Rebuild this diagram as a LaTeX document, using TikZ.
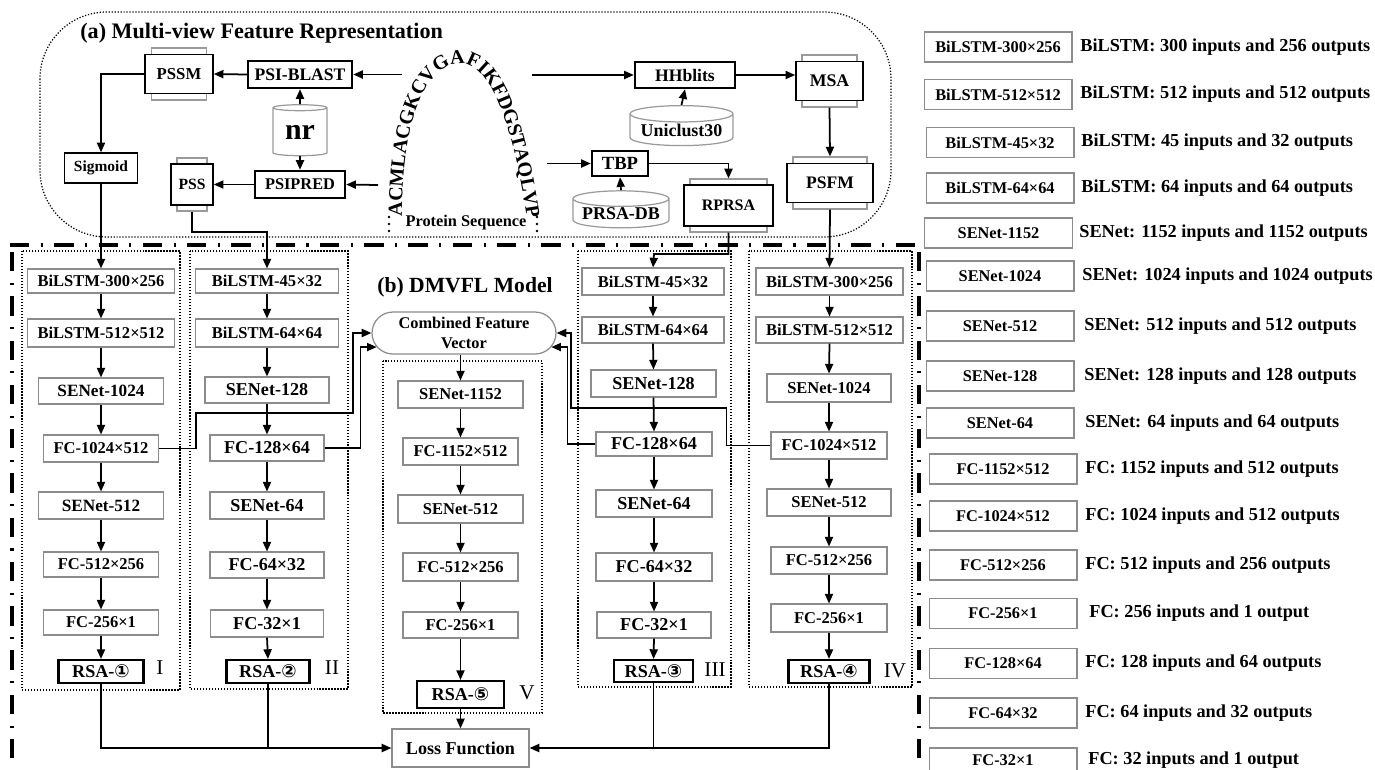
\documentclass[tikz,border=0pt]{standalone}
\usepackage{fontspec}
\setmainfont{Liberation Serif}
\newfontfamily\circfont{DejaVu Sans}
\usepackage{tikz}
\usetikzlibrary{arrows.meta,positioning,calc,shapes.geometric,shapes.misc,decorations.text}
\definecolor{boxgris}{HTML}{8C8C8C}
\definecolor{cylgris}{HTML}{9A9A9A}

\tikzset{
  lyr/.style={draw=boxgris,line width=0.6pt,fill=white,inner sep=0pt,minimum height=0.52cm,
              font=\fontsize{9.4}{11}\selectfont\bfseries},
  lyrbig/.style={lyr,font=\fontsize{10.3}{12}\selectfont\bfseries},
  rsa/.style={draw,line width=1.2pt,fill=white,inner sep=0pt,minimum height=0.46cm,
              font=\fontsize{10.3}{12}\selectfont\bfseries},
  tool/.style={draw,line width=1.4pt,fill=white,inner sep=0pt,minimum height=0.52cm,
               font=\fontsize{10}{12}\selectfont\bfseries},
  mat/.style={draw,line width=0.9pt,fill=white,inner sep=0pt,font=\fontsize{9.5}{11}\selectfont\bfseries},
  matbk/.style={draw=cylgris,line width=0.7pt,fill=white,inner sep=0pt},
  db/.style={cylinder,shape border rotate=90,aspect=0.2,draw=cylgris,line width=0.7pt,fill=white,
             inner sep=0pt,font=\fontsize{10.2}{12}\selectfont\bfseries},
  frm/.style={densely dotted,line width=0.7pt},
  arr/.style={-{Triangle[length=5.5pt,width=4.6pt]},line width=1pt},
  ln/.style={line width=1pt},
  num/.style={font=\fontsize{12}{14}\selectfont},
  dashdot/.style={line width=1.8pt,dash pattern=on 11pt off 6.5pt on 1.2pt off 6.5pt},
  leg/.style={draw=boxgris,line width=0.6pt,inner sep=0pt,minimum width=2.96cm,minimum height=0.6cm,
              font=\fontsize{9.3}{11}\selectfont\bfseries},
  legtxt/.style={anchor=west,inner sep=0pt,font=\fontsize{10.4}{12}\selectfont\bfseries},
}

\begin{document}
\begin{tikzpicture}[x=0.02cm,y=-0.02cm,line cap=butt]
  \useasboundingbox (0,0) rectangle (1375,769);

  % (a) multi-view features
  \draw[frm,rounded corners=38pt] (40,12) rectangle (891,237);
  \node[anchor=west,inner sep=0pt,font=\fontsize{12.6}{14}\selectfont\bfseries] (ttla) at (80,33)
       {(a) Multi-view Feature Representation};

  \path[decorate,decoration={text along path,text align={fit to path},
        text={|\fontsize{11.4}{13}\selectfont\bfseries|ACMLACGKCVGAFIKFDGSTAQLVP}}]
        (402,216) .. controls (402,120) and (425,64) .. (461,64)
                  .. controls (495,64) and (515,140) .. (527,218);
  \foreach \xx in {389,537}{
    \foreach \yy in {217,224,231} \fill (\xx,\yy) circle (0.8pt);
  }
  \node[inner sep=0pt,font=\fontsize{9.3}{11}\selectfont\bfseries] (seq) at (466,223) {Protein Sequence};
  \coordinate (s1) at (402,74.5);
  \coordinate (s2) at (378,185);
  \coordinate (s3) at (532,75);
  \coordinate (s4) at (547,163.5);

  \node[matbk,minimum width=1.1cm,minimum height=1.04cm] (pssm0) at (179,74) {};
  \node[mat,minimum width=1.36cm,minimum height=0.78cm] (pssm) at (179,74) {PSSM};
  \node[tool,minimum width=2.08cm,minimum height=0.54cm] (psib) at (300,74.5) {PSI-BLAST};
  \node[db,minimum width=1.08cm,minimum height=1.02cm,font=\fontsize{17}{18}\selectfont\bfseries] (nr) at (300,132) {nr};
  \node[tool,minimum width=1.8cm,minimum height=0.54cm,font=\fontsize{9.3}{11}\selectfont\bfseries] (psip) at (300,184.5) {PSIPRED};
  \node[matbk,minimum width=0.6cm,minimum height=1.06cm] (pss0) at (192,184.5) {};
  \node[mat,minimum width=0.84cm,minimum height=0.82cm,font=\fontsize{8.9}{11}\selectfont\bfseries] (pss) at (192,184.5) {PSS};
  \node[draw,line width=0.8pt,inner sep=0pt,minimum width=1.46cm,minimum height=0.6cm,
        font=\fontsize{8.8}{11}\selectfont\bfseries] (sig) at (101,168) {Sigmoid};

  \node[tool,minimum width=2cm] (hhb) at (685,75) {HHblits};
  \node[db,minimum width=2.06cm,minimum height=0.8cm] (uni) at (681.5,130) {Uniclust30};
  \node[matbk,minimum width=1.1cm,minimum height=1.04cm] (msa0) at (829.5,81) {};
  \node[mat,minimum width=1.34cm,minimum height=0.78cm,font=\fontsize{10.1}{12}\selectfont\bfseries] (msa) at (829.5,81) {MSA};
  \node[matbk,minimum width=1.48cm,minimum height=1.04cm] (psfm0) at (830,183) {};
  \node[mat,minimum width=1.72cm,minimum height=0.78cm,font=\fontsize{10}{12}\selectfont\bfseries] (psfm) at (830,183) {PSFM};
  \node[tool,minimum width=1.12cm,minimum height=0.5cm,font=\fontsize{10.6}{12}\selectfont\bfseries] (tbp) at (620,163.5) {TBP};
  \node[db,minimum width=1.92cm,minimum height=0.74cm] (prsa) at (621,213.5) {PRSA-DB};
  \node[matbk,minimum width=1.54cm,minimum height=1.06cm] (rprsa0) at (728.5,205.5) {};
  \node[mat,minimum width=1.78cm,minimum height=0.82cm,font=\fontsize{9.1}{11}\selectfont\bfseries] (rprsa) at (728.5,205.5) {RPRSA};

  \draw[arr] (s1) -- (psib.east);
  \draw[arr] (psib.west) -- (pssm.east);
  \draw[arr] (nr.90) -- (psib.south);
  \draw[arr] (nr.270) -- (psip.north);
  \draw[arr] (s2) -- (psip.east);
  \draw[arr] (psip.west) -- (pss.east);
  \draw[arr] (pssm.west) -| (sig.north);
  \draw[arr] (s3) -- (hhb.west);
  \draw[arr] (uni.90) -- (hhb.south);
  \draw[arr] (hhb.east) -- (hhb.east -| msa.west);
  \draw[arr] (msa0.south) -- (psfm0.north);
  \draw[arr] (s4) -- (tbp.west);
  \draw[arr] (prsa.90) -- (tbp.south);
  \draw[arr] (tbp.east) -| (rprsa0.north);

  % (b) DMVFL model
  \draw[dashdot,line width=2pt] (10,245) -- (915,245);
  \draw[dashdot] (12,252) -- (12,769);
  \draw[dashdot] (919,252) -- (919,769);
  \node[inner sep=0pt,font=\fontsize{12.3}{14}\selectfont\bfseries] (ttlb) at (465,287) {(b) DMVFL Model};

  \draw[frm] (22,251) rectangle (180,690);
  \draw[frm] (190,251) rectangle (348,689);
  \draw[frm] (383,361) rectangle (542,713);
  \draw[frm] (578,251) rectangle (731,687);
  \draw[frm] (749,251) rectangle (912,687);

  % view I
  \node[lyr,minimum width=2.94cm,minimum height=0.48cm] (c1a) at (101,281) {BiLSTM-300×256};
  \node[lyr,minimum width=2.94cm,minimum height=0.56cm] (c1b) at (101,333) {BiLSTM-512×512};
  \node[lyr,minimum width=2.5cm,font=\fontsize{9.8}{11}\selectfont\bfseries] (c1c) at (101,391) {SENet-1024};
  \node[lyr,minimum width=2.3cm,minimum height=0.54cm] (c1d) at (101,448.5) {FC-1024×512};
  \node[lyr,minimum width=2.5cm,minimum height=0.54cm,font=\fontsize{9.8}{11}\selectfont\bfseries] (c1e) at (101,505.5) {SENet-512};
  \node[lyr,minimum width=2.3cm,minimum height=0.5cm] (c1f) at (101,564.5) {FC-512×256};
  \node[lyr,minimum width=2.3cm,minimum height=0.5cm] (c1g) at (101,622.5) {FC-256×1};
  \node[rsa,minimum width=1.7cm] (c1h) at (101,671.5) {RSA-{\circfont ①}};
  \node[num] (n1) at (160,668) {I};

  % view II
  \node[lyr,minimum width=2.86cm,minimum height=0.48cm] (c2a) at (267,281) {BiLSTM-45×32};
  \node[lyr,minimum width=2.86cm,minimum height=0.56cm] (c2b) at (267,333) {BiLSTM-64×64};
  \node[lyrbig,minimum width=2.48cm] (c2c) at (267,390) {SENet-128};
  \node[lyrbig,minimum width=2.28cm] (c2d) at (267,448) {FC-128×64};
  \node[lyrbig,minimum width=2.28cm,minimum height=0.54cm] (c2e) at (267,505.5) {SENet-64};
  \node[lyrbig,minimum width=2.28cm] (c2f) at (267,565) {FC-64×32};
  \node[lyrbig,minimum width=2.26cm,minimum height=0.54cm] (c2g) at (267,623.5) {FC-32×1};
  \node[rsa,minimum width=1.66cm] (c2h) at (268,671.5) {RSA-{\circfont ②}};
  \node[num] (n2) at (332,668) {II};

  % view V (fusion)
  \node[rounded rectangle,draw=boxgris,line width=0.7pt,fill=white,inner sep=0pt,
        minimum width=3.68cm,minimum height=0.84cm,align=center,
        font=\fontsize{9.3}{11.3}\selectfont\bfseries] (comb) at (464,333) {Combined Feature\\Vector};
  \node[lyr,minimum width=2.5cm,minimum height=0.54cm] (c5a) at (460.5,394.5) {SENet-1152};
  \node[lyr,minimum width=2.3cm,minimum height=0.54cm] (c5b) at (460.5,451.5) {FC-1152×512};
  \node[lyr,minimum width=2.5cm,minimum height=0.56cm] (c5c) at (460.5,509) {SENet-512};
  \node[lyr,minimum width=2.3cm,minimum height=0.56cm] (c5d) at (460.5,567) {FC-512×256};
  \node[lyr,minimum width=2.3cm] (c5e) at (460.5,625) {FC-256×1};
  \node[rsa,minimum width=1.74cm,minimum height=0.54cm] (c5f) at (460.5,694.5) {RSA-{\circfont ⑤}};
  \node[num] (n5) at (527,693) {V};
  \node[draw=boxgris,line width=0.7pt,inner sep=0pt,minimum width=2.74cm,minimum height=0.76cm,
        font=\fontsize{10.3}{12}\selectfont\bfseries] (loss) at (460.5,748) {Loss Function};

  % view III
  \node[lyr,minimum width=2.84cm,minimum height=0.54cm] (c3a) at (653,281.5) {BiLSTM-45×32};
  \node[lyr,minimum width=2.84cm] (c3b) at (653,330) {BiLSTM-64×64};
  \node[lyrbig,minimum width=2.5cm,minimum height=0.54cm] (c3c) at (653.5,383.5) {SENet-128};
  \node[lyrbig,minimum width=2.32cm,minimum height=0.48cm] (c3d) at (654,444) {FC-128×64};
  \node[lyrbig,minimum width=2.32cm,minimum height=0.54cm] (c3e) at (654,503.5) {SENet-64};
  \node[lyrbig,minimum width=2.32cm,minimum height=0.56cm] (c3f) at (654,567) {FC-64×32};
  \node[lyrbig,minimum width=2.28cm] (c3g) at (654,625) {FC-32×1};
  \node[rsa,minimum width=1.58cm,minimum height=0.44cm] (c3h) at (653.5,671) {RSA-{\circfont ③}};
  \node[num] (n3) at (715,670) {III};

  % view IV
  \node[lyr,minimum width=2.94cm,minimum height=0.54cm] (c4a) at (829.5,281.5) {BiLSTM-300×256};
  \node[lyr,minimum width=2.94cm] (c4b) at (829.5,330) {BiLSTM-512×512};
  \node[lyr,minimum width=2.48cm,minimum height=0.56cm] (c4c) at (829,388) {SENet-1024};
  \node[lyr,minimum width=2.32cm,minimum height=0.54cm] (c4d) at (829,445.5) {FC-1024×512};
  \node[lyr,minimum width=2.48cm,minimum height=0.54cm] (c4e) at (829,502.5) {SENet-512};
  \node[lyr,minimum width=2.32cm,minimum height=0.54cm] (c4f) at (829,560.5) {FC-512×256};
  \node[lyr,minimum width=2.32cm,minimum height=0.56cm] (c4g) at (829,618) {FC-256×1};
  \node[rsa,minimum width=1.62cm] (c4h) at (829,671.5) {RSA-{\circfont ④}};
  \node[num] (n4) at (895,671) {IV};

  \foreach \c in {1,2,3,4}{
    \foreach \p/\q in {a/b,b/c,c/d,d/e,e/f,f/g,g/h}
      \draw[arr] (c\c\p.south) -- (c\c\q.north);
  }
  \foreach \p/\q in {a/b,b/c,c/d,d/e,e/f}
    \draw[arr] (c5\p.south) -- (c5\q.north);

  \draw[arr] (sig.south) -- (c1a.north);
  \draw[arr] (pss0.south) |- (267,232) -- (c2a.north);
  \draw[arr] (rprsa0.south) |- (654,254) -- (c3a.north);
  \draw[arr] (psfm0.south) -- (c4a.north);

  \draw[arr] (c1d.east) -- ++(37,0) |- (353,413) |- (comb.west);
  \draw[arr] (c2d.east) -- ++(36,0) |- ([xshift=3pt,yshift=-8pt]comb.west);
  \draw[arr] (c3d.west) -- ++(-28,0) |- ([xshift=-3pt,yshift=-8pt]comb.east);
  \draw[arr] (c4d.west) -- ++(-44,0) |- (571,408) |- (comb.east);
  \draw[arr] (comb.south -| c5a.north) -- (c5a.north);

  \draw[arr] (c1h.south) |- (loss.west);
  \draw[ln] (c2h.south) -- (c2h.south |- loss.west);
  \draw[arr] (c4h.south) |- (loss.east);
  \draw[ln] (c3h.south) -- (c3h.south |- loss.east);
  \draw[arr] (c5f.south) -- (loss.north);

  % legend
  \foreach \yy/\xx/\xd/\lab/\dsc in {
      47/998/1080/BiLSTM-300×256/BiLSTM: 300 inputs and 256 outputs,
      94.5/998/1080/BiLSTM-512×512/BiLSTM: 512 inputs and 512 outputs,
      142.5/1000/1081/BiLSTM-45×32/BiLSTM: 45 inputs and 32 outputs,
      188/1000/1081/BiLSTM-64×64/BiLSTM: 64 inputs and 64 outputs,
      233/998.5/1079/SENet-1152/SENet: 1152 inputs and 1152 outputs,
      276/1000/1082/SENet-1024/SENet: 1024 inputs and 1024 outputs,
      326/1000/1084/SENet-512/SENet: 512 inputs and 512 outputs,
      376/1000/1084/SENet-128/SENet: 128 inputs and 128 outputs,
      423/1000/1085/SENet-64/SENet: 64 inputs and 64 outputs,
      469/1003/1085/FC-1152×512/FC: 1152 inputs and 512 outputs,
      516/1003/1085/FC-1024×512/FC: 1024 inputs and 512 outputs,
      565/1003/1085/FC-512×256/FC: 512 inputs and 256 outputs,
      613.5/1003/1089/FC-256×1/FC: 256 inputs and 1 output,
      663.5/1003/1085/FC-128×64/FC: 128 inputs and 64 outputs,
      713/1003/1085/FC-64×32/FC: 64 inputs and 32 outputs}{
    \node[leg] (k\yy) at (\xx,\yy) {\lab};
    \node[legtxt] (d\yy) at (\xd,\yy) {\dsc};
  }
  \node[leg,minimum height=0.48cm] (klast) at (1003,760) {FC-32×1};
  \node[legtxt] (dlast) at (1088,760) {FC: 32 inputs and 1 output};
\end{tikzpicture}
\end{document}
